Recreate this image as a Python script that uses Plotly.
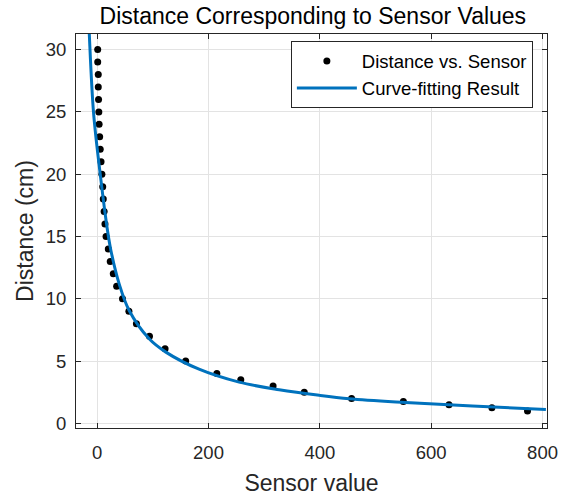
import plotly.graph_objects as go

# Measured data points (sensor value -> distance in cm)
sensor_values = [1, 1, 2, 2, 2.5, 3, 3.5, 4.5, 5.5, 7, 8.5, 10, 11, 12.5, 14, 16,
                 20, 23.5, 29, 35, 45.5, 57, 70.5, 94, 122, 159,
                 215, 258, 316, 372, 457, 550, 632, 709, 773]
distances = [30, 29, 28, 27, 26, 25, 24, 23, 22, 21, 20, 19, 18, 17, 16, 15,
             14, 13, 12, 11, 10, 9, 8, 7, 6, 5,
             4, 3.5, 3, 2.5, 2, 1.75, 1.5, 1.25, 1]

# Curve-fitting result, points
fit_x = [-15.5, -14.4, -6.6, 5.5, 18.5, 24.6, 39.5, 57.5, 93.4, 123.4, 183,
         255, 327, 399, 453, 554, 674, 806]
fit_y = [32.5, 31.5, 25.0, 20.0, 15.5, 13.9, 11.2, 9.06, 6.79, 5.72, 4.35,
         3.31, 2.70, 2.25, 1.98, 1.68, 1.39, 1.12]

x_ticks = [0, 200, 400, 600, 800]
y_ticks = [0, 5, 10, 15, 20, 25, 30]

FONT = "Liberation Sans, Arial, Helvetica, sans-serif"
DARK = "#262626"

fig = go.Figure()
fig.add_trace(go.Scatter(
    x=sensor_values, y=distances, mode="markers",
    name="Distance vs. Sensor",
    marker=dict(color="black", size=7),
))
fig.add_trace(go.Scatter(
    x=fit_x, y=fit_y, mode="lines", line_shape="spline",
    name="Curve-fitting Result",
    line=dict(color="#0072BD", width=3),
))

axis_common = dict(
    showline=True, linecolor=DARK, linewidth=1, mirror="ticks",
    ticks="inside", ticklen=5, tickcolor=DARK,
    showgrid=True, gridcolor="#e3e3e3", gridwidth=1,
    zeroline=False, automargin=False,
    tickfont=dict(family=FONT, size=18.5, color=DARK),
)

fig.update_layout(
    width=574, height=496,
    margin=dict(l=76, r=27, t=34, b=68),
    paper_bgcolor="white", plot_bgcolor="white",
    title=dict(text="Distance Corresponding to Sensor Values",
               x=0.545, xanchor="center", y=0.968, yanchor="middle",
               font=dict(family=FONT, size=23, color="black")),
    xaxis=dict(range=[-38, 808], tickvals=x_ticks, ticklabelstandoff=8,
               title=dict(text="Sensor value", standoff=12,
                          font=dict(family=FONT, size=23, color=DARK)),
               **axis_common),
    yaxis=dict(range=[-0.37, 31.25], tickvals=y_ticks, ticklabelstandoff=5,
               title=dict(text="Distance (cm)", standoff=5,
                          font=dict(family=FONT, size=23, color=DARK)),
               **axis_common),
    legend=dict(x=0.97, y=0.981, xanchor="right", yanchor="top",
                bgcolor="white", bordercolor=DARK, borderwidth=1,
                font=dict(family=FONT, size=18.5, color="black"),
                tracegroupgap=0, itemwidth=60),
    showlegend=True,
)

# remove the browser's default 8px page margin so the figure fills the window
fig.write_html("out.html",
               config={"displayModeBar": False},
               post_script="document.body.style.margin='0px';")
